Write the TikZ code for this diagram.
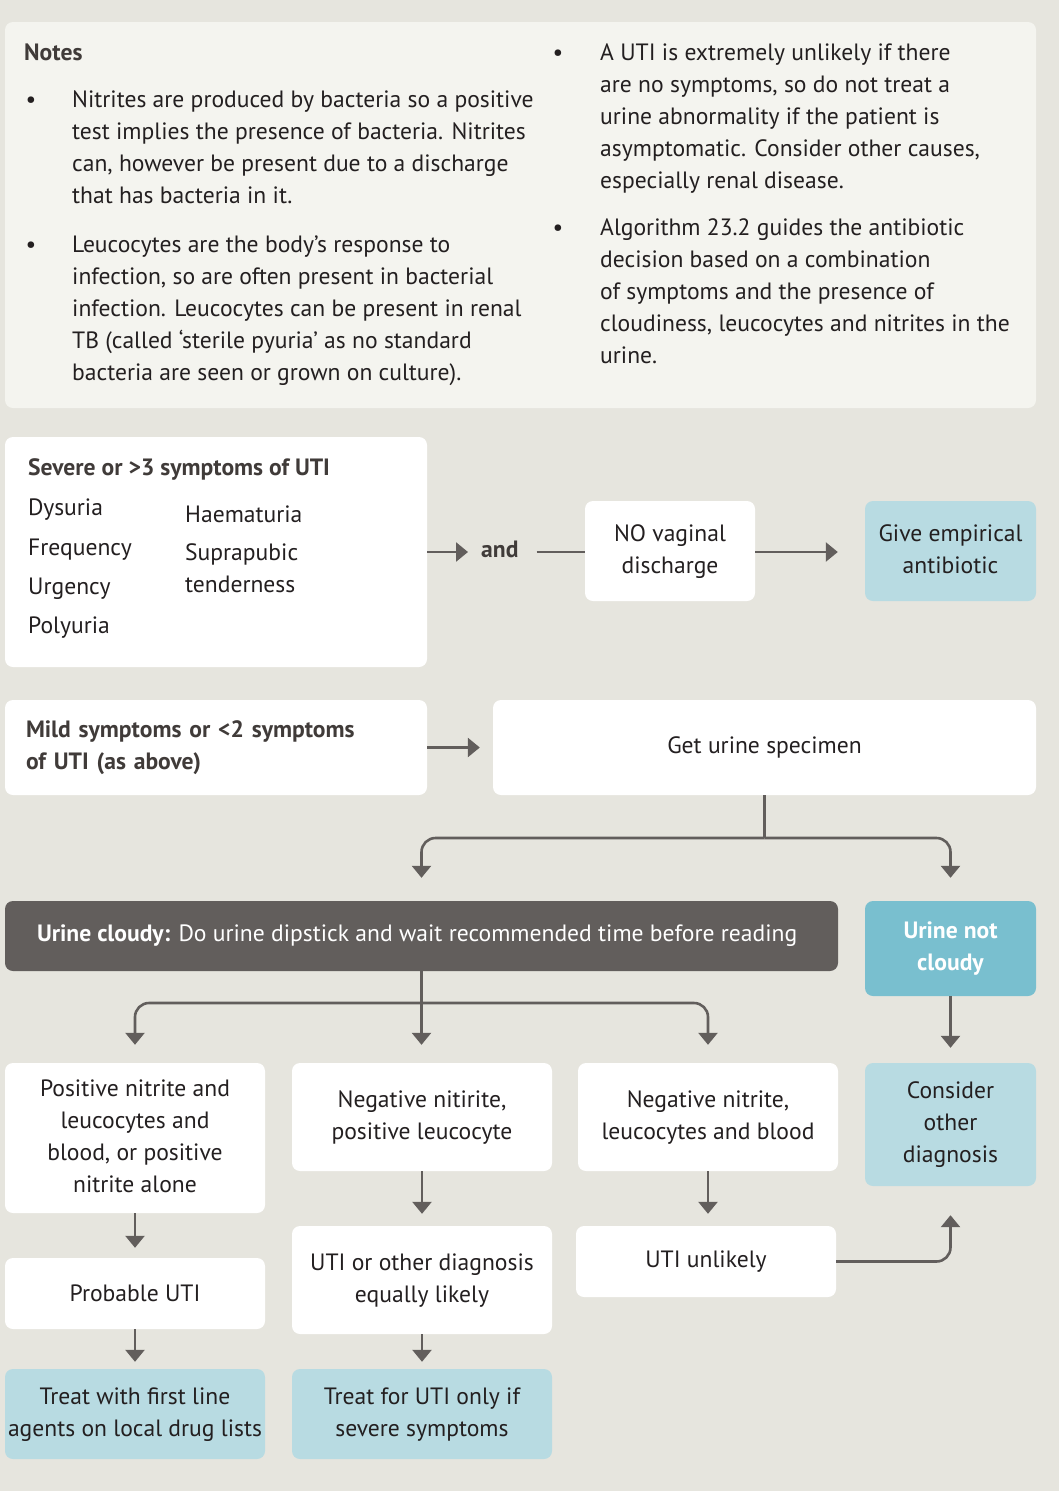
\documentclass[tikz,border=0pt]{standalone}
\usepackage{fontspec}
\setmainfont{PT Sans}
\usetikzlibrary{arrows.meta,calc}
\definecolor{bg}{HTML}{E6E5DE}
\definecolor{notesbg}{HTML}{F4F4EF}
\definecolor{lblue}{HTML}{B8DBE2}
\definecolor{dblue}{HTML}{79BFCF}
\definecolor{darkbox}{HTML}{625E5C}
\definecolor{arrowc}{HTML}{625E5C}
\definecolor{txt}{HTML}{231F20}
\definecolor{head}{HTML}{403B39}
\begin{document}
\begin{tikzpicture}[x=1pt,y=-1pt,
  font=\fontsize{23.6}{32}\selectfont,
  box/.style={rounded corners=8pt, inner sep=0pt, align=center, text=txt},
  wbox/.style={box, fill=white},
  bbox/.style={box, fill=lblue},
  para/.style={anchor=north west, inner sep=0pt, align=left, text=txt},
  itm/.style={anchor=base west, inner sep=0pt, text=txt},
  bul/.style={anchor=base, inner sep=0pt, text=txt},
  conn/.style={draw=arrowc, line width=2.6pt},
  arr/.style={conn, -{Triangle[width=19pt,length=12pt]}},
]
\fill[bg] (0,0) rectangle (1059,1491);
\useasboundingbox (0,0) rectangle (1059,1491);

% Notes
\node[box, fill=notesbg, minimum width=1031pt, minimum height=386pt] (notes) at (520.5,215) {};
\node[itm, text=head, font=\fontsize{23.6}{32}\selectfont\bfseries] (noteshead) at (24,60) {Notes};
\node[bul] (b1) at (31,107) {•};
\node[para] (p1) at (72,84.6) {\strut Nitrites are produced by bacteria so a positive\\
test implies the presence of bacteria. Nitrites\\
can, however be present due to a discharge\\
that has bacteria in it.};
\node[bul] (b2) at (31,252) {•};
\node[para] (p2) at (72,229.6) {\strut Leucocytes are the body’s response to\\
infection, so are often present in bacterial\\
infection. Leucocytes can be present in renal\\
TB (called ‘sterile pyuria’ as no standard\\
bacteria are seen or grown on culture).};
\node[bul] (b3) at (558,60) {•};
\node[para] (p3) at (600,37.6) {\strut A UTI is extremely unlikely if there\\
are no symptoms, so do not treat a\\
urine abnormality if the patient is\\
asymptomatic. Consider other causes,\\
especially renal disease.};
\node[bul] (b4) at (558,235) {•};
\node[para] (p4) at (600,212.6) {\strut Algorithm 23.2 guides the antibiotic\\
decision based on a combination\\
of symptoms and the presence of\\
cloudiness, leucocytes and nitrites in the\\
urine.};

% Severe box
\node[wbox, minimum width=422pt, minimum height=230pt] (severe) at (216,552) {};
\node[itm, text=head, font=\fontsize{23.6}{32}\selectfont\bfseries] (sevtitle) at (28,475) {Severe or >3 symptoms of UTI};
\node[itm] (dys) at (28,515) {Dysuria};
\node[itm] (freq) at (28,555) {Frequency};
\node[itm] (urg) at (28,594) {Urgency};
\node[itm] (poly) at (28,633) {Polyuria};
\node[itm] (haem) at (185,522) {Haematuria};
\node[itm] (supra) at (185,560) {Suprapubic};
\node[itm] (tend) at (185,592) {tenderness};

\node[anchor=base west, inner xsep=13pt, inner ysep=0pt, text=head, font=\fontsize{23.6}{32}\selectfont\bfseries] (and) at (468,557) {and};
\node[wbox, minimum width=170pt, minimum height=100pt] (novag) at (670,551) {\strut NO vaginal\\discharge\strut};
\node[bbox, minimum width=171pt, minimum height=100pt] (give) at (950.5,551) {\strut Give empirical\\antibiotic\strut};

\draw[arr] (severe.east) -- (severe.east -| and.west);
\draw[conn, shorten <=5pt] (and.east |- severe.east) -- (novag.west |- severe.east);
\draw[arr, shorten >=27pt] (novag.east |- severe.east) -- (give.west |- severe.east);

% Mild
\node[wbox, minimum width=422pt, minimum height=95pt, inner xsep=21pt, text width=380pt, align=left, font=\fontsize{23.6}{32}\selectfont\bfseries, text=head] (mild) at (216,747.5) {\strut Mild symptoms or <2 symptoms\\of UTI (as above)\strut};
\node[wbox, minimum width=543pt, minimum height=95pt] (spec) at (764.5,747.5) {Get urine specimen};
\draw[arr, shorten >=13pt] (mild.east) -- (spec.west);

% Cloudy
\node[box, fill=darkbox, text=white, minimum width=833pt, minimum height=70pt, inner xsep=32pt] (cloudy) at (421.5,936) {\makebox[769pt][l]{\textbf{Urine cloudy:} Do urine dipstick and wait recommended time before reading}};
\node[box, fill=dblue, text=white, minimum width=171pt, minimum height=95pt, font=\fontsize{23.6}{32}\selectfont\bfseries] (notcl) at (950.5,948.5) {\strut Urine not\\cloudy\strut};

\coordinate (j1) at (764.5,838);
\draw[conn] (spec.south) -- (j1);
\draw[arr, rounded corners=14pt] (j1) -| ([yshift=23pt]cloudy.north);
\draw[arr, rounded corners=14pt] (j1) -| ([yshift=23pt]notcl.north);

% Row of results
\node[wbox, minimum width=260pt, minimum height=150pt] (r1) at (135,1138) {\strut Positive nitrite and\\leucocytes and\\blood, or positive\\nitrite alone\strut};
\node[wbox, minimum width=260pt, minimum height=108pt] (r2) at (422,1117) {\strut Negative nitirite,\\positive leucocyte\strut};
\node[wbox, minimum width=260pt, minimum height=108pt] (r3) at (708,1117) {\strut Negative nitrite,\\leucocytes and blood\strut};
\node[bbox, minimum width=171pt, minimum height=123pt] (cons) at (950.5,1124.5) {\strut Consider\\other\\diagnosis\strut};

\coordinate (j2) at (421.5,1003);
\draw[arr, shorten >=18pt] (cloudy.south) -- (cloudy.south |- r2.north);
\draw[arr, rounded corners=14pt] (j2) -| ([yshift=18pt]r1.north);
\draw[arr, rounded corners=14pt] (j2) -| ([yshift=18pt]r3.north);
\draw[arr, shorten >=15pt] (notcl.south) -- (cons.north);

\node[wbox, minimum width=260pt, minimum height=71pt] (prob) at (135,1293.5) {Probable UTI};
\node[bbox, minimum width=260pt, minimum height=90pt] (treat1) at (135,1414) {\strut Treat with first line\\agents on local drug lists\strut};
\node[wbox, minimum width=260pt, minimum height=108pt] (other) at (422,1280) {\strut UTI or other diagnosis\\equally likely\strut};
\node[bbox, minimum width=260pt, minimum height=90pt] (treat2) at (422,1414) {\strut Treat for UTI only if\\severe symptoms\strut};
\node[wbox, minimum width=260pt, minimum height=71pt] (unl) at (706,1261.5) {UTI unlikely};

\draw[arr, shorten >=10pt] (r1.south) -- (prob.north);
\draw[arr, shorten >=7pt] (prob.south) -- (treat1.north);
\draw[arr, shorten >=12pt] (r2.south) -- (other.north);
\draw[arr, shorten >=7pt] (other.south) -- (treat2.north);
\draw[arr, shorten >=12pt] (r3.south) -- (r3.south |- unl.north);
\draw[arr, rounded corners=14pt] (unl.east) -| ([yshift=-29pt]cons.south);
\end{tikzpicture}
\end{document}
